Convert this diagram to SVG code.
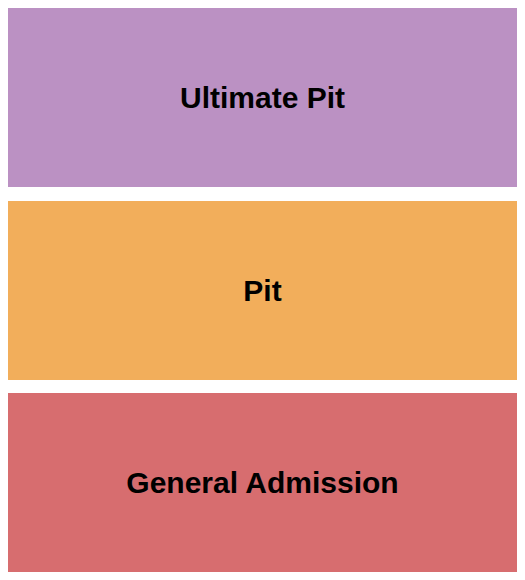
<svg xmlns="http://www.w3.org/2000/svg" width="525" height="580" viewBox="0 0 525 580">
<style>
.lbl{font-family:"Liberation Sans",Arial,sans-serif;font-weight:bold;font-size:30px;fill:#000;text-anchor:middle}
</style>
<rect width="525" height="580" fill="#fff"/>
<g id="ultimate-pit">
<rect x="8" y="8" width="509" height="179" fill="#BB91C3"/>
<text class="lbl" x="262.5" y="108">Ultimate Pit</text>
</g>
<g id="pit">
<rect x="8" y="201" width="509" height="179" fill="#F2AE5B"/>
<text class="lbl" x="262.5" y="300.5">Pit</text>
</g>
<g id="general-admission">
<rect x="8" y="393" width="509" height="179" fill="#D76D6F"/>
<text class="lbl" x="262.5" y="493">General Admission</text>
</g>
<g id="connectors"/>
</svg>
